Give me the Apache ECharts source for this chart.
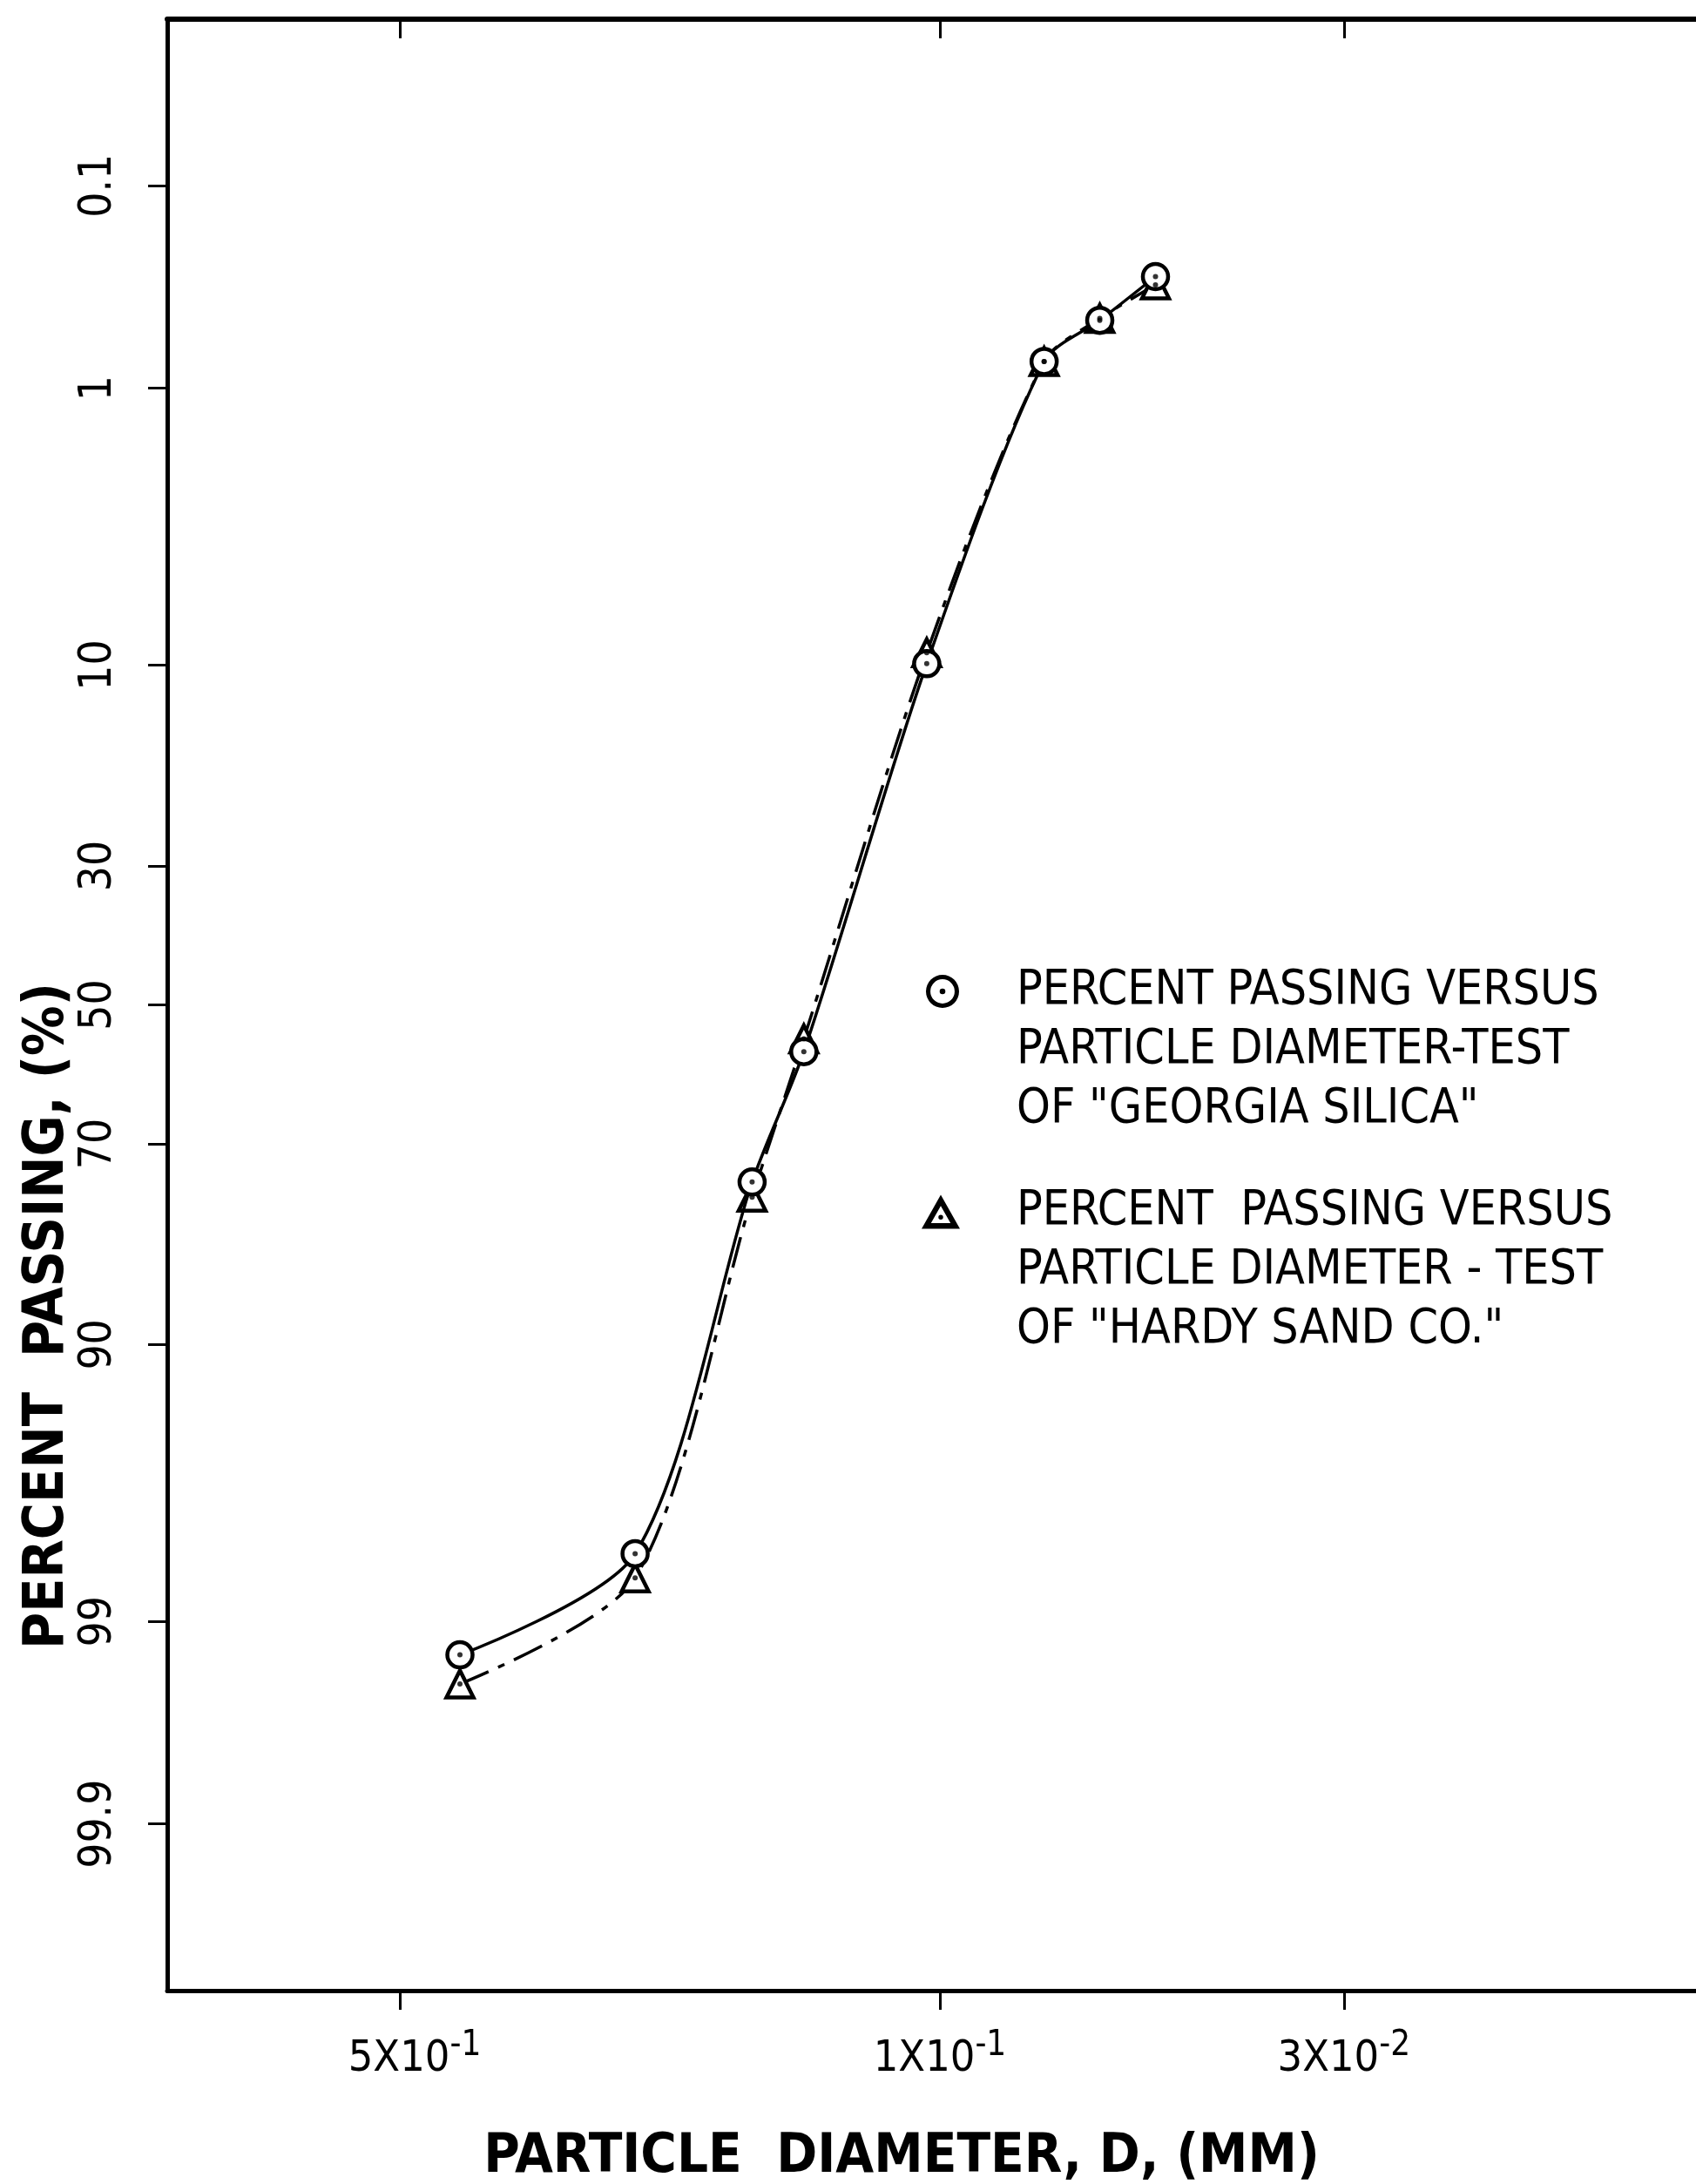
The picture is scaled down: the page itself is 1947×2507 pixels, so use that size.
<!DOCTYPE html>
<html><head><meta charset="utf-8">
<script src="https://cdn.jsdelivr.net/npm/echarts@6/dist/echarts.min.js"></script>
<style>html,body{margin:0;padding:0;background:#fff}#c{width:1947px;height:2507px}</style>
</head><body><div id="c"></div>
<script>
// ---- data ----
const diametersMM = [0.418, 0.248, 0.175, 0.150, 0.104, 0.0733, 0.0621, 0.0526];
const georgiaPct  = [99.29, 98.08, 74.8, 57.0, 9.9, 0.76, 0.49, 0.30];
const hardyPct    = [99.48, 98.47, 76.6, 55.1, 9.2, 0.76, 0.48, 0.33];
const yTickPct    = [0.1, 1, 10, 30, 50, 70, 90, 99, 99.9];
const yTickLabels = ['0.1', '1', '10', '30', '50', '70', '90', '99', '99.9'];
const xTickMM     = [0.5, 0.1, 0.03];
const xTickMant   = ['5X10', '1X10', '3X10'];
const xTickExp    = ['-1', '-1', '-2'];
const nameGeorgia = 'PERCENT PASSING VERSUS\nPARTICLE DIAMETER-TEST\nOF "GEORGIA SILICA"';
const nameHardy   = 'PERCENT  PASSING VERSUS\nPARTICLE DIAMETER - TEST\nOF "HARDY SAND CO."';

// inverse standard normal CDF (probability-paper scale)
function probit(p){
  const a=[-3.969683028665376e+01,2.209460984245205e+02,-2.759285104469687e+02,1.383577518672690e+02,-3.066479806614716e+01,2.506628277459239e+00];
  const b=[-5.447609879822406e+01,1.615858368580409e+02,-1.556989798598866e+02,6.680131188771972e+01,-1.328068155288572e+01];
  const c=[-7.784894002430293e-03,-3.223964580411365e-01,-2.400758277161838e+00,-2.549671348888566e+00,4.374664141464968e+00,2.938163982698783e+00];
  const d=[7.784695709041462e-03,3.224671290700398e-01,2.445134137142996e+00,3.754408661907416e+00];
  const pl=0.02425, ph=1-pl; let q,r;
  if(p<pl){q=Math.sqrt(-2*Math.log(p));return (((((c[0]*q+c[1])*q+c[2])*q+c[3])*q+c[4])*q+c[5])/((((d[0]*q+d[1])*q+d[2])*q+d[3])*q+1);}
  if(p<=ph){q=p-0.5;r=q*q;return (((((a[0]*r+a[1])*r+a[2])*r+a[3])*r+a[4])*r+a[5])*q/(((((b[0]*r+b[1])*r+b[2])*r+b[3])*r+b[4])*r+1);}
  q=Math.sqrt(-2*Math.log(1-p));return -(((((c[0]*q+c[1])*q+c[2])*q+c[3])*q+c[4])*q+c[5])/((((d[0]*q+d[1])*q+d[2])*q+d[3])*q+1);
}
const zOf = p => probit(p/100);
const lg = v => Math.log10(v);

const toPairs = pcts => diametersMM.map((dm,i)=>[lg(dm), zOf(pcts[i])]);
const yTickVals = yTickPct.map(zOf);
const xTickVals = xTickMM.map(lg);
const findIdx = (arr,v) => arr.findIndex(t => Math.abs(t - v) < 1e-6);

const FONT = "'DejaVu Sans Condensed','Liberation Sans Narrow','DejaVu Sans',sans-serif";
const ICON_CIRCLE = 'path://M0,-15A15,15,0,1,1,0,15A15,15,0,1,1,0,-15ZM0,-11A11,11,0,1,0,0,11A11,11,0,1,0,0,-11ZM0,-2.6A2.6,2.6,0,1,1,0,2.6A2.6,2.6,0,1,1,0,-2.6Z';
const ICON_TRI = 'path://M0,-18.5L21,18.5L-21,18.5ZM0,-6.4L-10.7,12.5L10.7,12.5ZM0,3.4A2.6,2.6,0,1,1,0,8.6A2.6,2.6,0,1,1,0,3.4Z';

const chart = echarts.init(document.getElementById('c'), null, {renderer:'canvas'});
const yMin = zOf(0.01), yMax = zOf(99.99);

const xAxisCommon = {type:'value', min:-2, max:0, inverse:true, splitLine:{show:false}};
const legendFmt = n => '\n\n' + n;
const legendText = pad => ({fontFamily:FONT, fontSize:55, color:'#000', lineHeight:68, padding:[0,0,0,pad]});

chart.setOption({
  animation:false,
  backgroundColor:'#fff',
  grid:{left:192, right:-19, top:22, bottom:222, outerBoundsMode:'none', containLabel:false},
  xAxis:[
    Object.assign({}, xAxisCommon, {
      position:'bottom',
      axisLine:{onZero:false, lineStyle:{color:'#000', width:5}},
      axisTick:{show:true, inside:false, length:22, lineStyle:{color:'#000', width:3}, customValues:xTickVals},
      axisLabel:{show:true, customValues:xTickVals, margin:44, color:'#000', fontFamily:FONT,
        formatter:v=>{const i=findIdx(xTickVals,v); if(i<0) return '';
          return '{'+(i===0?'mp':'m')+'|'+xTickMant[i]+'}{e|'+xTickExp[i]+'}';},
        rich:{m:{fontFamily:FONT, fontSize:50, color:'#000', padding:[10,0,0,0]},
              mp:{fontFamily:FONT, fontSize:50, color:'#000', padding:[10,0,0,34]},
              e:{fontFamily:FONT, fontSize:40, color:'#000', verticalAlign:'top'}}},
      name:'PARTICLE  DIAMETER, D, (MM)', nameLocation:'middle', nameGap:160,
      nameTextStyle:{fontFamily:FONT, fontSize:63, fontWeight:'bold', color:'#000', padding:[0,88,0,0]}
    }),
    Object.assign({}, xAxisCommon, {
      position:'top',
      axisLine:{onZero:false, lineStyle:{color:'#000', width:6}},
      axisTick:{show:true, inside:true, length:22, lineStyle:{color:'#000', width:3}, customValues:xTickVals},
      axisLabel:{show:false}
    })
  ],
  yAxis:{
    type:'value', min:yMin, max:yMax, inverse:true, splitLine:{show:false},
    axisLine:{onZero:false, lineStyle:{color:'#000', width:5}},
    axisTick:{show:true, inside:false, length:22, lineStyle:{color:'#000', width:3}, customValues:yTickVals},
    axisLabel:{show:true, customValues:yTickVals, rotate:90, margin:53, color:'#000', fontFamily:FONT, fontSize:51,
      formatter:v=>{const i=findIdx(yTickVals,v); return i<0?'':yTickLabels[i];}},
    name:'PERCENT  PASSING, (%)', nameLocation:'middle', nameRotate:90, nameGap:105, nameMoveOverlap:false,
    nameTextStyle:{fontFamily:FONT, fontSize:64, fontWeight:'bold', color:'#000', padding:[0,714,0,0]}
  },
  legend:[
    {data:[{name:nameGeorgia, icon:ICON_CIRCLE}], orient:'vertical', left:1058, top:963, formatter:legendFmt,
     itemWidth:38, itemHeight:38, itemStyle:{color:'#000', borderWidth:0}, textStyle:legendText(61), selectedMode:false},
    {data:[{name:nameHardy, icon:ICON_TRI}], orient:'vertical', left:1053, top:1216, formatter:legendFmt,
     itemWidth:44, itemHeight:39, itemStyle:{color:'#000', borderWidth:0}, textStyle:legendText(60), selectedMode:false}
  ],
  series:[
    {name:nameGeorgia, type:'line', data:toPairs(georgiaPct), smooth:0.28, z:3,
     symbol:'circle', symbolSize:29,
     itemStyle:{color:'#fff', borderColor:'#000', borderWidth:4.5},
     lineStyle:{color:'#000', width:3.5}},
    {name:nameHardy, type:'line', data:toPairs(hardyPct), smooth:0.28, z:2,
     symbol:'triangle', symbolSize:31,
     itemStyle:{color:'#fff', borderColor:'#000', borderWidth:4.5},
     lineStyle:{color:'#000', width:3.5, type:[36,12,8,12]}},
    {name:'dotsG', type:'scatter', data:toPairs(georgiaPct), symbol:'circle', symbolSize:6, z:4, silent:true,
     itemStyle:{color:'#000'}},
    {name:'dotsH', type:'scatter', data:toPairs(hardyPct), symbol:'circle', symbolSize:6, z:4, silent:true,
     itemStyle:{color:'#000'}}
  ]
});
</script>
</body></html>
